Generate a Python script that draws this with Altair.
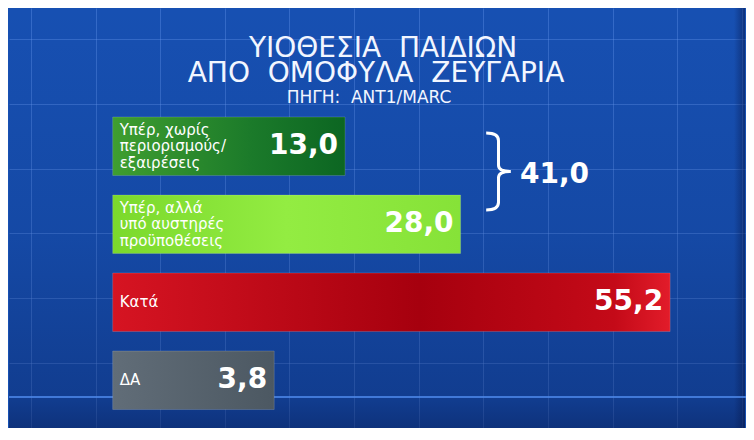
import altair as alt
import pandas as pd

# ---- data ----
keys = ["a", "b", "c", "d"]
categories = [
    "Υπέρ, χωρίς\nπεριορισμούς/\nεξαιρέσεις",
    "Υπέρ, αλλά\nυπό αυστηρές\nπροϋποθέσεις",
    "Κατά",
    "ΔΑ",
]
values = [13.0, 28.0, 55.2, 3.8]
value_labels = ["13,0", "28,0", "55,2", "3,8"]
title_line1 = "ΥΙΟΘΕΣΙΑ\u00a0\u00a0ΠΑΙΔΙΩΝ"
title_line2 = "ΑΠΟ\u00a0\u00a0ΟΜΟΦΥΛΑ\u00a0\u00a0ΖΕΥΓΑΡΙΑ"
source_text = "ΠΗΓΗ:\u00a0\u00a0ANT1/MARC"
group_total = f"{values[0] + values[1]:.1f}".replace(".", ",")

df = pd.DataFrame({"key": keys, "label": categories, "value": values, "vlabel": value_labels})
df["lines"] = df["label"].str.count("\n") + 1

W, H = 738, 420
BASE = -17.17  # left edge of every bar (label area) in value units
LH = 16.5

def hgrad(stops):
    return alt.LinearGradient(
        gradient="linear", x1=0, x2=1, y1=0, y2=0,
        stops=[alt.GradientStop(offset=o, color=c) for o, c in stops],
    )

def vgrad(stops):
    return alt.LinearGradient(
        gradient="linear", x1=0, x2=0, y1=0, y2=1,
        stops=[alt.GradientStop(offset=o, color=c) for o, c in stops],
    )

bar_fills = {
    "a": hgrad([(0, "#3f9e30"), (0.6, "#1b7a2a"), (1, "#0c6622")]),
    "b": hgrad([(0, "#7bd92c"), (0.5, "#93ec42"), (1, "#86e238")]),
    "c": hgrad([(0, "#d61422"), (0.55, "#a6000e"), (0.9, "#c40a18"), (1, "#e21c2a")]),
    "d": hgrad([(0, "#616d78"), (1, "#4c5862")]),
}

xscale = alt.Scale(domain=[-30.63, 64.92], nice=False, zero=False)
yscale = alt.Scale(domain=keys, paddingInner=0.25, paddingOuter=0.8173, align=0.855)
X = alt.X("value:Q", scale=xscale, axis=None)
Y = alt.Y("key:N", scale=yscale, axis=None, sort=keys)

# ---- background grid layer (own scales, gridlines from axes) ----
gx = alt.Scale(domain=[-0.679, 22.099], nice=False, zero=False)
gy = alt.Scale(domain=[-0.957, 12.006], nice=False, zero=False, reverse=True)
grid_axis_x = alt.Axis(values=list(range(0, 23)), labels=False, ticks=False, domain=False,
                       title=None, grid=True, gridColor="#6a9cf0", gridOpacity=0.35,
                       gridWidth=1, minExtent=0, maxExtent=0)
grid_axis_y = alt.Axis(values=list(range(0, 13)), labels=False, ticks=False, domain=False,
                       title=None, grid=True, gridColor="#6a9cf0", gridOpacity=0.35,
                       gridWidth=1, minExtent=0, maxExtent=0)

shade = alt.Chart(alt.Data(values=[{}])).mark_rect(
    fill=vgrad([(0, "rgba(5,20,70,0)"), (0.55, "rgba(5,20,70,0.12)"),
                (0.93, "rgba(5,20,70,0.32)"), (1, "rgba(5,20,70,0.5)")])
).encode(
    x=alt.X(datum=-0.679, scale=gx, axis=grid_axis_x),
    x2=alt.X2(datum=22.099),
    y=alt.Y(datum=-0.957, scale=gy, axis=grid_axis_y),
    y2=alt.Y2(datum=12.006),
)
vignette = alt.Chart(alt.Data(values=[{}])).mark_rect(
    fill=hgrad([(0, "rgba(5,20,70,0)"), (0.985, "rgba(5,20,70,0)"), (1, "rgba(5,20,70,0.5)")])
).encode(
    x=alt.X(datum=-0.679, scale=gx),
    x2=alt.X2(datum=22.099),
    y=alt.Y(datum=-0.957, scale=gy),
    y2=alt.Y2(datum=12.006),
)
grid_layer = alt.layer(shade, vignette)

# ---- main layer ----
base = alt.Chart(df)
bars = [
    base.transform_filter(alt.datum.key == k)
    .mark_bar(fill=bar_fills[k], stroke="rgba(255,255,255,0.15)", strokeWidth=1)
    .encode(x=X, x2=alt.X2(datum=BASE), y=Y)
    for k in keys
]

label_style = dict(align="left", baseline="middle", dx=7, color="white", font="DejaVu Sans",
                   fontSize=15, lineBreak="\n", lineHeight=LH)
labels_multi = base.transform_filter(alt.datum.lines > 1).mark_text(
    dy=-LH, **label_style
).encode(x=alt.X(datum=BASE, scale=xscale, axis=None), y=Y, text="label:N")
labels_single = base.transform_filter(alt.datum.lines == 1).mark_text(
    **label_style
).encode(x=alt.X(datum=BASE, scale=xscale, axis=None), y=Y, text="label:N")

nums = base.mark_text(
    align="right", baseline="middle", dx=-7, color="white", font="DejaVu Sans",
    fontWeight="bold", fontSize=28,
).encode(x=X, y=Y, text="vlabel:N")

one = alt.Data(values=[{}])
floor = alt.Chart(one).mark_rule(color="#4d88ea", strokeWidth=2, opacity=0.8).encode(
    x=alt.value(0), x2=alt.value(W), y=alt.value(389)
)

t1 = alt.Chart(one).mark_text(text=title_line1, font="DejaVu Sans", fontSize=28,
                              color="#f2f6ff", align="center", baseline="alphabetic").encode(
    x=alt.value(374), y=alt.value(49))
t2 = alt.Chart(one).mark_text(text=title_line2, font="DejaVu Sans", fontSize=28,
                              color="#f2f6ff", align="center", baseline="alphabetic").encode(
    x=alt.value(367), y=alt.value(74))
t3 = alt.Chart(one).mark_text(text=source_text, font="DejaVu Sans", fontSize=17,
                              color="#f2f6ff", align="center", baseline="alphabetic").encode(
    x=alt.value(360), y=alt.value(95))

brace_path = ("M -0.32 -1 Q 0 -1 0 -0.8 L 0 -0.16 Q 0 0 0.32 0 "
              "Q 0 0 0 0.16 L 0 0.8 Q 0 1 -0.32 1")
brace = alt.Chart(one).mark_point(shape=brace_path, size=77 * 77, filled=False,
                                  stroke="white", strokeWidth=3, opacity=1).encode(
    x=alt.value(489.5), y=alt.value(163.5))
total = alt.Chart(one).mark_text(text=group_total, font="DejaVu Sans", fontWeight="bold",
                                 fontSize=28, color="white", align="left",
                                 baseline="middle").encode(
    x=alt.value(511), y=alt.value(167))

main_layer = alt.layer(floor, *bars, labels_multi, labels_single, nums, t1, t2, t3, brace, total)

chart = alt.layer(grid_layer, main_layer).resolve_scale(
    x="independent", y="independent"
).properties(
    width=W, height=H, padding=0,
    autosize=alt.AutoSizeParams(type="fit", contains="padding"),
    background="#1750b2",
).configure_view(fill="#1750b2", strokeWidth=0)

chart.save("out.html", embed_options={"renderer": "svg", "actions": False})
